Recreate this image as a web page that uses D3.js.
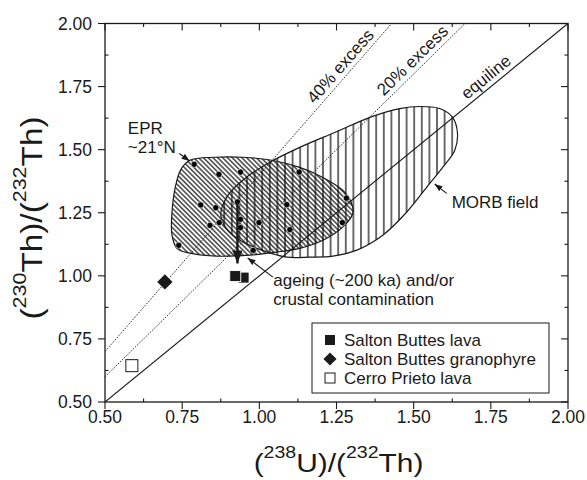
<!DOCTYPE html>
<html>
<head>
<meta charset="utf-8">
<script src="https://cdn.jsdelivr.net/npm/d3@7"></script>
<style>
  body { margin: 0; background: #fff; }
  text { font-family: "Liberation Sans", Arial, Helvetica, sans-serif; fill: #1a1a1a; }
</style>
</head>
<body>
<svg id="chart" width="587" height="480"></svg>
<script>
// ---- data -------------------------------------------------------------
const xTickValues = [0.5, 0.75, 1.0, 1.25, 1.5, 1.75, 2.0];
const yTickValues = [0.5, 0.75, 1.0, 1.25, 1.5, 1.75, 2.0];
const minorTickValues = [0.625, 0.875, 1.125, 1.375, 1.625, 1.875];

// EPR ~21°N basalts: (238U/232Th, 230Th/232Th)
const eprU = [0.789, 0.869, 0.939, 1.129, 0.810, 0.859, 0.929, 1.089, 1.282,
              0.939, 0.840, 0.870, 0.939, 0.999, 1.099, 1.269, 0.739, 0.980];
const eprTh = [1.442, 1.402, 1.411, 1.411, 1.281, 1.270, 1.293, 1.282, 1.308,
               1.224, 1.200, 1.211, 1.191, 1.211, 1.183, 1.211, 1.121, 1.101];

const saltonLavaU = [0.949, 0.922];
const saltonLavaTh = [0.993, 0.999];
const granophyreU = [0.694];
const granophyreTh = [0.976];
const cerroPrietoU = [0.587];
const cerroPrietoTh = [0.644];

// field outlines (U/Th, Th/Th)
const eprFieldU = [0.775, 0.856, 0.947, 1.040, 1.131, 1.206, 1.270, 1.299, 1.303, 1.270,
                   1.206, 1.131, 1.057, 0.969, 0.862, 0.775, 0.733, 0.717, 0.717, 0.727, 0.746];
const eprFieldTh = [1.458, 1.470, 1.470, 1.458, 1.430, 1.390, 1.339, 1.287, 1.248, 1.193,
                    1.141, 1.109, 1.094, 1.082, 1.078, 1.090, 1.109, 1.161, 1.252, 1.347, 1.422];
const morbFieldU = [0.875, 0.898, 0.953, 1.034, 1.131, 1.244, 1.367, 1.455, 1.519, 1.584,
                    1.626, 1.642, 1.633, 1.594, 1.542, 1.477, 1.400, 1.316, 1.238, 1.163,
                    1.089, 1.008, 0.937, 0.892];
const morbFieldTh = [1.244, 1.319, 1.386, 1.450, 1.509, 1.568, 1.632, 1.663, 1.671, 1.663,
                     1.628, 1.565, 1.497, 1.430, 1.351, 1.252, 1.161, 1.102, 1.078, 1.074,
                     1.074, 1.102, 1.141, 1.189];

// reference lines: 230Th/232Th = ratio * 238U/232Th
const refRatios = [1.0, 1.2, 1.4];
const refLabels = ["equiline", "20% excess", "40% excess"];
const refLabelAt = [1.756, 1.520, 1.288];

const legendLabels = ["Salton Buttes lava", "Salton Buttes granophyre", "Cerro Prieto lava"];

// ---- layout ------------------------------------------------------------
const svg = d3.select("#chart");
const plotL = 105, plotR = 568, plotT = 23.5, plotB = 402;
const x = d3.scaleLinear().domain([0.5, 2.0]).range([plotL, plotR]);
const y = d3.scaleLinear().domain([0.5, 2.0]).range([plotB, plotT]);
const ink = "#1a1a1a";

const defs = svg.append("defs");
defs.append("clipPath").attr("id", "plotClip")
  .append("rect").attr("x", plotL).attr("y", plotT)
  .attr("width", plotR - plotL).attr("height", plotB - plotT);

const morbHatch = defs.append("pattern").attr("id", "morbHatch")
  .attr("patternUnits", "userSpaceOnUse").attr("width", 7.6).attr("height", 10);
morbHatch.append("line").attr("x1", 3.8).attr("x2", 3.8).attr("y1", 0).attr("y2", 10)
  .attr("stroke", "#000").attr("stroke-width", 1.15);

const eprHatch = defs.append("pattern").attr("id", "eprHatch")
  .attr("patternUnits", "userSpaceOnUse").attr("width", 10).attr("height", 3.4)
  .attr("patternTransform", "rotate(45)");
eprHatch.append("line").attr("x1", 0).attr("x2", 10).attr("y1", 1.7).attr("y2", 1.7)
  .attr("stroke", "#000").attr("stroke-width", 1.1);

function arrowMarker(id, len, wid) {
  defs.append("marker").attr("id", id)
    .attr("viewBox", `0 0 ${len} ${wid}`)
    .attr("refX", len).attr("refY", wid / 2)
    .attr("markerUnits", "userSpaceOnUse")
    .attr("markerWidth", len).attr("markerHeight", wid)
    .attr("orient", "auto")
    .append("path").attr("d", `M0,0L${len},${wid / 2}L0,${wid}Z`).attr("fill", ink);
}
arrowMarker("headSmall", 8, 6);
arrowMarker("headBig", 13, 10);

const plot = svg.append("g").attr("clip-path", "url(#plotClip)");

// ---- fields ------------------------------------------------------------
const outline = d3.line().x(d => x(d[0])).y(d => y(d[1])).curve(d3.curveCatmullRomClosed.alpha(0.5));
const morbPts = d3.zip(morbFieldU, morbFieldTh);
const eprPts = d3.zip(eprFieldU, eprFieldTh);

plot.append("path").attr("d", outline(morbPts)).attr("fill", "url(#morbHatch)");
plot.append("path").attr("d", outline(eprPts)).attr("fill", "url(#eprHatch)");
plot.append("path").attr("d", outline(morbPts)).attr("fill", "none")
  .attr("stroke", ink).attr("stroke-width", 1.2);
plot.append("path").attr("d", outline(eprPts)).attr("fill", "none")
  .attr("stroke", ink).attr("stroke-width", 1.2);

// ---- reference lines ---------------------------------------------------
refRatios.forEach((r, i) => {
  plot.append("line")
    .attr("x1", x(0.5)).attr("y1", y(0.5 * r))
    .attr("x2", x(2.0)).attr("y2", y(2.0 * r))
    .attr("stroke", ink)
    .attr("stroke-width", i === 0 ? 1.1 : 0.9)
    .attr("stroke-dasharray", i === 0 ? null : "1.6,1.4");
  const ux = refLabelAt[i];
  const ang = Math.atan2(y(2.0 * r) - y(0.5 * r), x(2.0) - x(0.5)) * 180 / Math.PI;
  svg.append("text")
    .attr("transform", `translate(${x(ux)},${y(ux * r)}) rotate(${ang})`)
    .attr("y", -4.8)
    .attr("text-anchor", "middle")
    .attr("font-size", 17)
    .text(refLabels[i]);
});

// ---- EPR samples -------------------------------------------------------
plot.selectAll("circle.epr").data(d3.zip(eprU, eprTh)).join("circle")
  .attr("class", "epr")
  .attr("cx", d => x(d[0])).attr("cy", d => y(d[1])).attr("r", 3.1)
  .attr("fill", "#000").attr("stroke", "#fff").attr("stroke-width", 0.6);

// ---- arrows and annotations ------------------------------------------
function arrow(x1, y1, x2, y2, w, marker) {
  svg.append("line")
    .attr("x1", x(x1)).attr("y1", y(y1)).attr("x2", x(x2)).attr("y2", y(y2))
    .attr("stroke", ink).attr("stroke-width", w)
    .attr("marker-end", `url(#${marker})`);
}
arrow(0.929, 1.293, 0.929, 1.049, 2.4, "headBig");
arrow(0.741, 1.485, 0.774, 1.455, 1.1, "headSmall");
arrow(1.607, 1.327, 1.568, 1.364, 1.1, "headSmall");
arrow(1.044, 0.995, 0.962, 1.071, 1.1, "headSmall");

function note(ux, uy, lines) {
  const t = svg.append("text").attr("font-size", 17).attr("x", x(ux)).attr("y", y(uy));
  lines.forEach((s, i) => t.append("tspan").attr("x", x(ux)).attr("dy", i === 0 ? 0 : 19.3).text(s));
}
note(0.574, 1.564, ["EPR", "~21°N"]);
note(1.623, 1.268, ["MORB field"]);
note(1.045, 0.961, ["ageing (~200 ka) and/or", "crustal contamination"]);

// ---- Salton Buttes / Cerro Prieto ------------------------------------
plot.selectAll("rect.lava").data(d3.zip(saltonLavaU, saltonLavaTh)).join("rect")
  .attr("class", "lava")
  .attr("x", d => x(d[0]) - 5.5).attr("y", d => y(d[1]) - 5.5)
  .attr("width", 11).attr("height", 11)
  .attr("fill", ink).attr("stroke", "#fff").attr("stroke-width", 0.9);

const diamond = d3.symbol().type(d3.symbolDiamond2).size(150);
plot.selectAll("path.grano").data(d3.zip(granophyreU, granophyreTh)).join("path")
  .attr("class", "grano")
  .attr("transform", d => `translate(${x(d[0])},${y(d[1])})`)
  .attr("d", diamond).attr("fill", ink);

plot.selectAll("rect.cp").data(d3.zip(cerroPrietoU, cerroPrietoTh)).join("rect")
  .attr("class", "cp")
  .attr("x", d => x(d[0]) - 6).attr("y", d => y(d[1]) - 6)
  .attr("width", 12).attr("height", 12)
  .attr("fill", "#fff").attr("stroke", ink).attr("stroke-width", 1);

// ---- axes --------------------------------------------------------------
const axisG = svg.append("g").attr("stroke", ink).attr("stroke-width", 1.1);
axisG.append("rect").attr("x", plotL).attr("y", plotT)
  .attr("width", plotR - plotL).attr("height", plotB - plotT)
  .attr("fill", "none").attr("stroke-width", 1.3);

const major = 7, minor = 3.5;
xTickValues.forEach(v => {
  axisG.append("line").attr("x1", x(v)).attr("x2", x(v)).attr("y1", plotB).attr("y2", plotB + major);
  axisG.append("line").attr("x1", x(v)).attr("x2", x(v)).attr("y1", plotT).attr("y2", plotT + major);
});
yTickValues.forEach(v => {
  axisG.append("line").attr("y1", y(v)).attr("y2", y(v)).attr("x1", plotL).attr("x2", plotL - major);
  axisG.append("line").attr("y1", y(v)).attr("y2", y(v)).attr("x1", plotR).attr("x2", plotR - major);
});
minorTickValues.forEach(v => {
  axisG.append("line").attr("x1", x(v)).attr("x2", x(v)).attr("y1", plotB).attr("y2", plotB - minor);
  axisG.append("line").attr("x1", x(v)).attr("x2", x(v)).attr("y1", plotT).attr("y2", plotT + minor);
  axisG.append("line").attr("y1", y(v)).attr("y2", y(v)).attr("x1", plotL).attr("x2", plotL + minor);
  axisG.append("line").attr("y1", y(v)).attr("y2", y(v)).attr("x1", plotR).attr("x2", plotR - minor);
});

const fmt = d3.format(".2f");
svg.append("g").selectAll("text").data(xTickValues).join("text")
  .attr("x", d => x(d)).attr("y", plotB + 20.5)
  .attr("text-anchor", "middle").attr("font-size", 17.5).text(fmt);
svg.append("g").selectAll("text").data(yTickValues).join("text")
  .attr("x", plotL - 13).attr("y", d => y(d) + 6.2)
  .attr("text-anchor", "end").attr("font-size", 17.5).text(fmt);

// axis titles with superscript mass numbers
function isoTitle(sel, size, supSize, rise, parts) {
  parts.forEach(p => {
    sel.append("tspan").attr("font-size", p.sup ? supSize : size)
      .attr("dy", p.sup ? -rise : (p.after ? rise : 0)).text(p.t);
  });
}
const xt = svg.append("text")
  .attr("transform", "translate(338.5,471.5) scale(1.15,1)")
  .attr("text-anchor", "middle");
isoTitle(xt, 26, 17, 14, [{t: "("}, {t: "238", sup: true}, {t: "U)/(", after: true}, {t: "232", sup: true}, {t: "Th)", after: true}]);
const yt = svg.append("text")
  .attr("transform", "translate(41.5,218) rotate(-90) scale(1.13,1)")
  .attr("text-anchor", "middle");
isoTitle(yt, 29.5, 19, 16, [{t: "("}, {t: "230", sup: true}, {t: "Th)/(", after: true}, {t: "232", sup: true}, {t: "Th)", after: true}]);

// ---- legend ------------------------------------------------------------
const lg = svg.append("g");
lg.append("rect").attr("x", 312).attr("y", 323).attr("width", 237).attr("height", 70)
  .attr("fill", "#fff").attr("stroke", ink).attr("stroke-width", 1);
const rowY = i => 340 + i * 19;
lg.append("rect").attr("x", 325).attr("y", rowY(0) - 5).attr("width", 10).attr("height", 10).attr("fill", ink);
lg.append("path").attr("transform", `translate(330,${rowY(1)})`)
  .attr("d", d3.symbol().type(d3.symbolDiamond2).size(110)).attr("fill", ink);
lg.append("rect").attr("x", 325).attr("y", rowY(2) - 5).attr("width", 10).attr("height", 10)
  .attr("fill", "#fff").attr("stroke", ink).attr("stroke-width", 1);
legendLabels.forEach((s, i) => {
  lg.append("text").attr("x", 344).attr("y", rowY(i) + 6).attr("font-size", 17).text(s);
});
</script>
</body>
</html>
